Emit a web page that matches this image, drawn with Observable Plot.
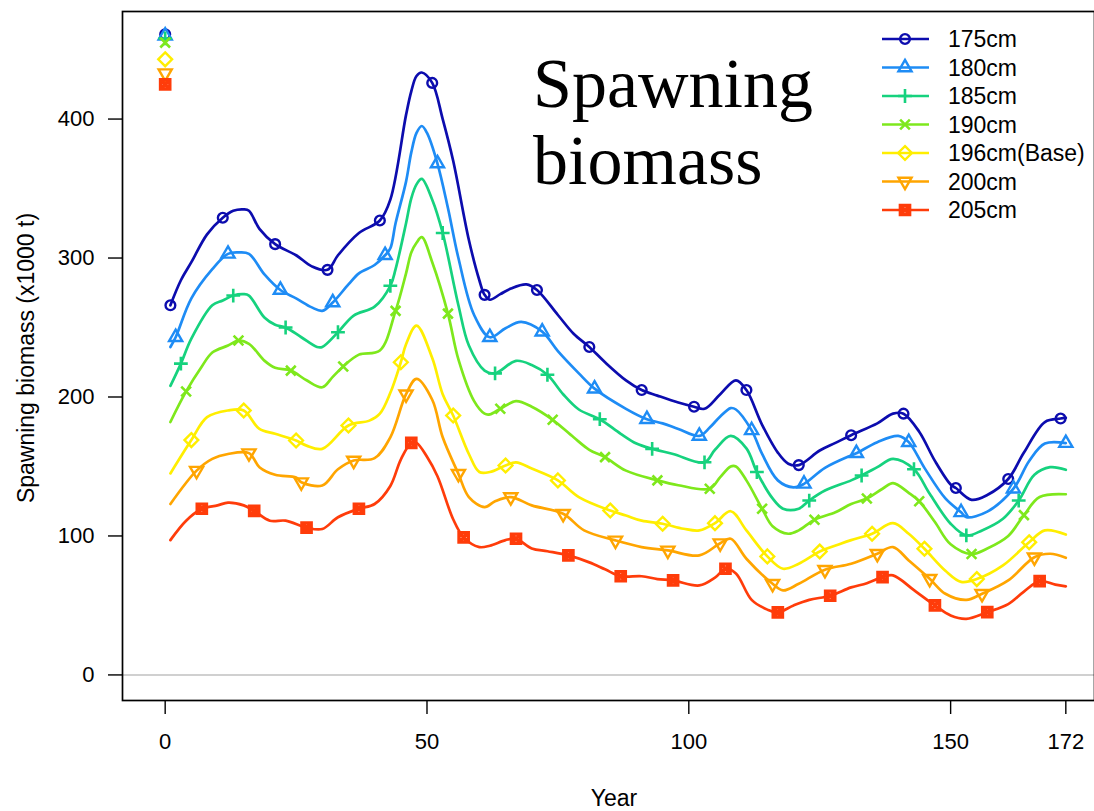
<!DOCTYPE html>
<html><head><meta charset="utf-8">
<script src="https://cdn.jsdelivr.net/npm/d3@7"></script>
<script src="https://cdn.jsdelivr.net/npm/@observablehq/plot@0.6"></script>
<style>body{margin:0;background:#fff;}</style>
</head><body><div id="chart"></div>
<script>
// ---- data ----
const labels = ["175cm","180cm","185cm","190cm","196cm(Base)","200cm","205cm"];
const colors = ["#0c0cae","#1e8cf5","#16d27e","#7ee81c","#ffee00","#ffa500","#ff3c0a"];
const markerOffsets = [1,2,3,4,5,6,7];
const virginBiomass = [461,460,458,455,443,433,425];

const years175 = [1,3,5,8,11,13,15,16,18,21,25,28,31,33,37,41,43,46,47,48,49,51,53,55,58,60,61,62,64,66,69,71,75,78,81,84,88,91,94,98,101,103,106,109,111,114,117,119,121,125,128,131,136,139,141,144,147,150,151,154,157,161,164,168,171,172];
const sb175 = [266,284,297,317,329,334,335,334,321,310,302,294,291.5,302,318,327,342,403,420,431,433.5,426,400,370,313,284,273.5,270,274,278,281,277,259,245.5,236,225,212,205,201,196,193,191.5,202,212,205,180,160,152,151,161.5,167,172.5,181,188,188,175,154,137,134.5,126,129.5,141,160,182,184.5,185];

const years180 = [1,2,5,9,12,14,16,19,22,25,28,30,32,35,37,40,42,43,44,46,47,48,49,50,52,54,56,59,62,65,68,72,75,79,82,88,92,95,98,102,104,106,108,109,112,114,117,120,122,126,131,132,136,140,142,145,149,152,153,157,162,165,168,172];
const sb180 = [236,243,271,292,303,304,303,288,277,271,264.5,262,268,281,289,295,302,307,325,355,376,390,395,390,368,336,300,259,243,249.5,254,247,233,217,206,191.5,184,181,177,172,178,186,192,191,176,159,140,135,137.5,149,158,159.5,167.5,172,167.5,149,127,117,113.5,117.5,134,154,166.5,166.8];

const years185 = [1,3,5,9,11,13,15,16,19,21,23,26,29,30,33,36,40,43,44,46,47,48,49,51,53,56,58,61,63,67,70,73,76,79,83,87,90,93,97,103,105,108,111,113,116,118,121,123,126,131,133,136,139,143,146,150,153,156,160,163,166,169,172];
const sb185 = [208,224,242,266,269.4,273,274,273,257,252,250,243,236,236,246.6,258.6,265,280,292,325,343,353,357,342,318,266,237,219,217,226,223,216,202,191,184,173.5,166.5,162.7,159,153,162,172,163,146,127,119.6,119.6,125.5,132.7,140,143.5,149.5,155.5,148,130.4,108.8,100.4,104,112.4,125.5,144,149.5,147.6];

const years190 = [1,4,7,9,12,14,16,19,21,24,27,30,32,34,37,41,44,46,47,48,49,51,54,56,59,61,62,64,67,70,74,78,81,84,88,94,98,104,106,108,109,111,114,116,119,121,124,128,131,134,137,139,142,144,147,150,154,157,161,164,167,172];
const sb190 = [182,204,222,232,237,240.6,238.3,226,221,219,212,207,214.5,222,230.5,233.5,262,289,304,311,315,297,260,227,197,188,187.5,191.5,197,193,183.6,171,162,156.7,147,140,136.5,134,142.3,150,150,140,119.6,107,101.6,104,111.7,117,123,127,134,138,131,125,110,94,87,91,100,115,128,130];

const years196 = [1,5,8,12,15,18,21,25,27,30,35,39,41,43,45,46,48,51,53,55,58,60,62,65,67,70,75,79,85,88,91,95,99,102,105,108,111,115,118,121,125,129,131,135,139,142,145,149,152,155,160,165,168,172];
const sb196 = [145,169,185.5,190.3,190.3,177,173.5,168.7,165,162.7,179.5,183,188,203,225,238,251.4,228,202,186.7,159,146,146,150.7,153,148.5,140,128,118.3,114.7,111,108.8,105.2,104,109.2,117.8,104,85.3,76.4,80,88.8,94.4,97,101.6,109.2,101.6,90.8,75,67,69,78.8,95.5,104,101];

const years200 = [1,6,9,12,16,18,21,25,26,30,33,36,40,43,46,48,51,53,56,58,61,63,66,70,76,80,86,91,96,102,106,108,111,116,118,121,126,131,136,139,142,146,149,153,156,161,166,169,172];
const sb200 = [123,147,155.5,159,159.6,149.5,144,142,138.7,136.3,148,154.3,156,171,202,213,198,171,144.7,128,120.7,125,128,122,116,104,96.8,92,89.6,86,94.8,98,83.6,65.6,60.8,65.6,75.7,80,87.2,92,82.4,69.2,58.4,54,58.4,68,84.7,87.2,84.3];

const years205 = [1,4,7,10,12,15,17,20,23,27,30,33,37,40,43,45,47,48,50,52,55,57,60,62,65,67,70,73,77,81,84,87,91,94,97,102,105,107,109,112,115,117,120,123,127,131,134,137,139,143,147,150,153,157,161,164,167,170,172];
const sb205 = [97,111,119.6,122,124,122,118,111,111,106,105,113.5,119.6,123,136,155,167,167,157,143,112,99,92,93,97,98,91,89,86,81,76,71,71,69,68,64.4,70,76.4,73,54,47,45,50,54,57,63,66,70.4,71.6,61,50,42.8,40.4,45.2,51,60,67.5,65,63.7];

const xTicks = [0,50,100,150,172];
const yTicks = [0,100,200,300,400];
const titleLines = ["Spawning","biomass"];
const xTitle = "Year";
const yTitle = "Spawning biomass (x1000 t)";

// ---- R-like plotting symbols ----
const S = 13; // symbol base size (px)
const Rr = 0.375 * S;
const sym = [
  {draw(c){ c.moveTo(Rr,0); c.arc(0,0,Rr,0,2*Math.PI); c.closePath(); }}, // pch 1
  {draw(c){ const r=1.5551*Rr, hx=1.3468*Rr, b=0.7776*Rr; c.moveTo(0,-r); c.lineTo(hx,b); c.lineTo(-hx,b); c.closePath(); }}, // pch 2
  {draw(c){ const a=1.4142*Rr; c.moveTo(-a,0); c.lineTo(a,0); c.moveTo(0,-a); c.lineTo(0,a); }}, // pch 3
  {draw(c){ const a=Rr; c.moveTo(-a,-a); c.lineTo(a,a); c.moveTo(-a,a); c.lineTo(a,-a); }}, // pch 4
  {draw(c){ const a=1.4142*Rr; c.moveTo(0,-a); c.lineTo(a,0); c.lineTo(0,a); c.lineTo(-a,0); c.closePath(); }}, // pch 5
  {draw(c){ const r=1.5551*Rr, hx=1.3468*Rr, b=0.7776*Rr; c.moveTo(0,r); c.lineTo(hx,-b); c.lineTo(-hx,-b); c.closePath(); }}, // pch 6
  {draw(c){ const a=0.95*Rr; c.moveTo(-a,-a); c.lineTo(a,-a); c.lineTo(a,a); c.lineTo(-a,a); c.closePath(); c.moveTo(-a,-a); c.lineTo(a,a); c.moveTo(-a,a); c.lineTo(a,-a); }} // pch 7
];
const symWidth = [2.4,2.4,2.6,2.6,2.4,2.4,3.4];

const seriesYears = [years175,years180,years185,years190,years196,years200,years205];
const seriesVals = [sb175,sb180,sb185,sb190,sb196,sb200,sb205];

const FONT = "'Liberation Sans', Arial, sans-serif";
const marks = [];
marks.push(Plot.ruleY([0], {stroke:"#c0c0c0", strokeWidth:1.6}));
labels.forEach((lab, i) => {
  const rows = seriesYears[i].map((yr, k) => ({series: lab, year: yr, value: seriesVals[i][k]}));
  const pts = rows.filter(d => (d.year - markerOffsets[i]) % 10 === 0);
  marks.push(Plot.line(rows, {x:"year", y:"value", stroke: colors[i], strokeWidth: 2.7, curve: "catmull-rom"}));
  marks.push(Plot.dot(pts, {x:"year", y:"value", symbol: sym[i], r: 5, stroke: colors[i], strokeWidth: symWidth[i], fill: "none"}));
  marks.push(Plot.dot([{year: 0, value: virginBiomass[i]}], {x:"year", y:"value", symbol: sym[i], r: 5, stroke: colors[i], strokeWidth: symWidth[i], fill: "none"}));
});
marks.push(Plot.axisX({ticks: xTicks, tickFormat: d => String(d), tickSize: 14, tickPadding: 19, label: null, fontSize: 22, stroke: "black", strokeWidth: 1.4}));
marks.push(Plot.axisY({ticks: yTicks, tickFormat: d => String(d), tickSize: 14, tickPadding: 14, label: null, fontSize: 22, stroke: "black", strokeWidth: 1.4}));
marks.push(Plot.frame({stroke: "black", strokeWidth: 1.7}));

const plot = Plot.plot({
  width: 1094, height: 811,
  marginTop: 11, marginBottom: 111, marginLeft: 122, marginRight: 0,
  style: {fontFamily: FONT, color: "black", background: "white"},
  x: {domain: [-8.15, 180.15], range: [122, 1108]},
  y: {domain: [-18.4, 477.4], range: [700, 11]},
  marks
});
document.getElementById("chart").appendChild(plot);

// ---- titles & legend ----
const svg = d3.select(plot);
svg.append("text").attr("x", 614).attr("y", 806).attr("text-anchor","middle")
  .attr("font-size", 23).attr("font-family", FONT).attr("fill","black").text(xTitle);
svg.append("text").attr("transform","translate(34,358) rotate(-90)").attr("text-anchor","middle")
  .attr("font-size", 23).attr("font-family", FONT).attr("fill","black").text(yTitle);
titleLines.forEach((t, k) => {
  svg.append("text").attr("x", 533).attr("y", 107 + k*77).attr("font-size", 70).attr("text-anchor","start")
    .attr("font-family","'Liberation Serif', 'Times New Roman', serif").attr("fill","black").text(t);
});
const lg = svg.append("g");
labels.forEach((lab, i) => {
  const y = 39 + i*28.5;
  lg.append("line").attr("x1",882).attr("x2",929).attr("y1",y).attr("y2",y)
    .attr("stroke",colors[i]).attr("stroke-width",2.7);
  lg.append("path").attr("transform",`translate(905,${y})`).attr("d", d3.symbol().type(sym[i])())
    .attr("fill","none").attr("stroke",colors[i]).attr("stroke-width",symWidth[i]);
  lg.append("text").attr("x",948).attr("y",y).attr("dy","0.36em").attr("font-size",23).attr("text-anchor","start")
    .attr("font-family", FONT).attr("fill","black").text(lab);
});
</script>
</body></html>
